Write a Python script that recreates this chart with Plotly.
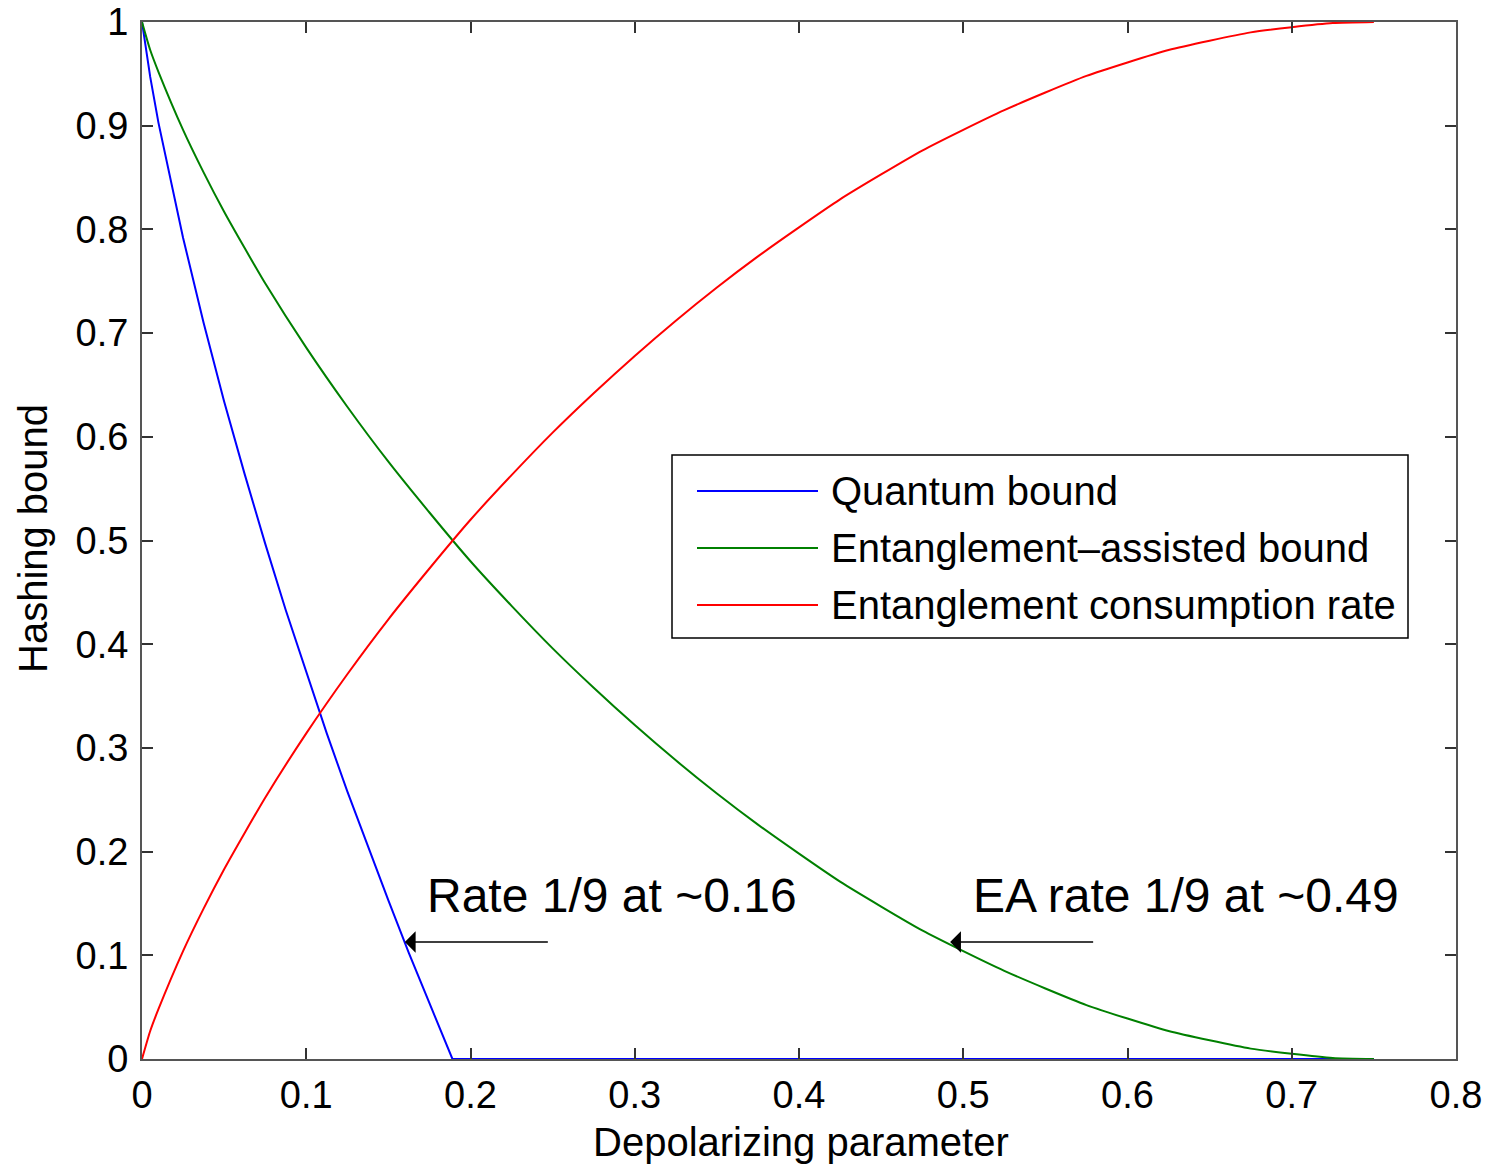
import plotly.graph_objects as go

# Depolarizing parameter sample points
p_vals = [0, 0.005, 0.01, 0.025, 0.0375, 0.05, 0.0625, 0.075, 0.1, 0.125, 0.15, 0.175, 0.2,
          0.225, 0.25, 0.275, 0.3, 0.325, 0.35, 0.375, 0.4, 0.425, 0.45, 0.475, 0.5,
          0.525, 0.55, 0.575, 0.6, 0.625, 0.65, 0.675, 0.7, 0.725, 0.75]

# Entanglement consumption rate (red)
consumption = [0.0, 0.027, 0.048, 0.104, 0.145, 0.183, 0.218, 0.252, 0.314, 0.371, 0.424,
               0.473, 0.520, 0.563, 0.604, 0.642, 0.678, 0.712, 0.744, 0.774, 0.802,
               0.829, 0.853, 0.876, 0.896, 0.915, 0.932, 0.948, 0.961, 0.973, 0.982,
               0.990, 0.995, 0.999, 1.000]

# Entanglement-assisted bound (green)
ea_bound = [1.0, 0.973, 0.952, 0.896, 0.855, 0.817, 0.782, 0.748, 0.686, 0.629, 0.576,
            0.527, 0.480, 0.437, 0.396, 0.358, 0.322, 0.288, 0.256, 0.226, 0.198,
            0.171, 0.147, 0.124, 0.104, 0.085, 0.068, 0.052, 0.039, 0.027, 0.018,
            0.010, 0.005, 0.001, 0.000]

# Quantum bound (blue)
q_p = [0, 0.005, 0.01, 0.025, 0.0375, 0.05, 0.0625, 0.075, 0.0875, 0.1, 0.1125, 0.125,
       0.1375, 0.15, 0.1625, 0.175, 0.18, 0.189, 0.75]
q_bound = [1.0, 0.947, 0.903, 0.792, 0.710, 0.634, 0.564, 0.497, 0.433, 0.373, 0.314,
           0.258, 0.205, 0.153, 0.102, 0.054, 0.035, 0.0, 0.0]

x_ticks = [0, 0.1, 0.2, 0.3, 0.4, 0.5, 0.6, 0.7, 0.8]
x_tick_text = ["0", "0.1", "0.2", "0.3", "0.4", "0.5", "0.6", "0.7", "0.8"]
y_ticks = [0, 0.1, 0.2, 0.3, 0.4, 0.5, 0.6, 0.7, 0.8, 0.9, 1.0]
y_tick_text = ["0", "0.1", "0.2", "0.3", "0.4", "0.5", "0.6", "0.7", "0.8", "0.9", "1"]

series_names = ["Quantum bound", "Entanglement\u2013assisted bound", "Entanglement consumption rate"]
series_colors = ["#0000ff", "#008000", "#ff0000"]

FONT = "Liberation Sans, Arial, Helvetica, sans-serif"

fig = go.Figure()
fig.add_trace(go.Scatter(x=q_p, y=q_bound, mode="lines", name=series_names[0],
                         line=dict(color=series_colors[0], width=2), showlegend=False))
fig.add_trace(go.Scatter(x=p_vals, y=ea_bound, mode="lines", name=series_names[1],
                         line=dict(color=series_colors[1], width=2, shape="spline", smoothing=0.6),
                         showlegend=False))
fig.add_trace(go.Scatter(x=p_vals, y=consumption, mode="lines", name=series_names[2],
                         line=dict(color=series_colors[2], width=2, shape="spline", smoothing=0.6),
                         showlegend=False))

W, H = 1490, 1166
L, R, T, B = 142, 34, 22, 107
PW, PH = W - L - R, H - T - B


def px(xp):
    return (xp - L) / PW


def py(yp):
    return (T + PH - yp) / PH


shapes = []
annotations = []

# Manual legend box
shapes.append(dict(type="rect", xref="paper", yref="paper", x0=px(672), x1=px(1408),
                   y0=py(638), y1=py(455), line=dict(color="#000000", width=1.5),
                   fillcolor="white", layer="above"))
for i, (nm, col) in enumerate(zip(series_names, series_colors)):
    yy = [491, 548, 605][i]
    shapes.append(dict(type="line", xref="paper", yref="paper", x0=px(697), x1=px(818),
                       y0=py(yy), y1=py(yy), line=dict(color=col, width=2), layer="above"))
    annotations.append(dict(xref="paper", yref="paper", x=px(829), y=py(yy), text=nm,
                            showarrow=False, xanchor="left", yanchor="middle",
                            font=dict(family=FONT, size=40, color="#000000")))

# Arrows and notes
for head_x, tail_x in [(0.160, 0.248), (0.492, 0.580)]:
    annotations.append(dict(x=head_x, y=0.1128, ax=tail_x, ay=0.1128, xref="x", yref="y",
                            axref="x", ayref="y", text="", showarrow=True, arrowhead=1,
                            arrowsize=2.4, arrowwidth=1.5, arrowcolor="#000000"))
annotations.append(dict(x=0.1725, y=0.158, xref="x", yref="y", text="Rate 1/9 at ~0.16",
                        showarrow=False, xanchor="left", yanchor="middle",
                        font=dict(family=FONT, size=48, color="#000000")))
annotations.append(dict(x=0.5045, y=0.158, xref="x", yref="y", text="EA rate 1/9 at ~0.49",
                        showarrow=False, xanchor="left", yanchor="middle",
                        font=dict(family=FONT, size=48, color="#000000")))

# Axis titles
annotations.append(dict(xref="paper", yref="paper", x=px(801), y=py(1142),
                        text="Depolarizing parameter", showarrow=False,
                        xanchor="center", yanchor="middle",
                        font=dict(family=FONT, size=40, color="#000000")))
annotations.append(dict(xref="paper", yref="paper", x=px(33), y=py(539),
                        text="Hashing bound", showarrow=False, textangle=-90,
                        xanchor="center", yanchor="middle",
                        font=dict(family=FONT, size=40, color="#000000")))

axis_common = dict(showgrid=False, zeroline=False, showline=True, linecolor="#555555",
                   linewidth=2, mirror="ticks", ticks="inside", ticklen=11, tickwidth=2,
                   tickcolor="#333333", automargin=False, ticklabeloverflow="allow",
                   tickfont=dict(family=FONT, size=38, color="#000000"))

fig.update_layout(
    width=W, height=H,
    margin=dict(l=L, r=R, t=T, b=B),
    paper_bgcolor="white", plot_bgcolor="white",
    xaxis=dict(range=[0, 0.8], tickvals=x_ticks, ticktext=x_tick_text, ticklabelstandoff=1,
               **axis_common),
    yaxis=dict(range=[0, 1], tickvals=y_ticks, ticktext=y_tick_text, ticklabelstandoff=4,
               **axis_common),
    shapes=shapes,
    annotations=annotations,
    showlegend=False,
)

fig.write_html("out.html", config={"displayModeBar": False},
               post_script="document.body.style.margin='0';document.body.style.overflow='hidden';")
